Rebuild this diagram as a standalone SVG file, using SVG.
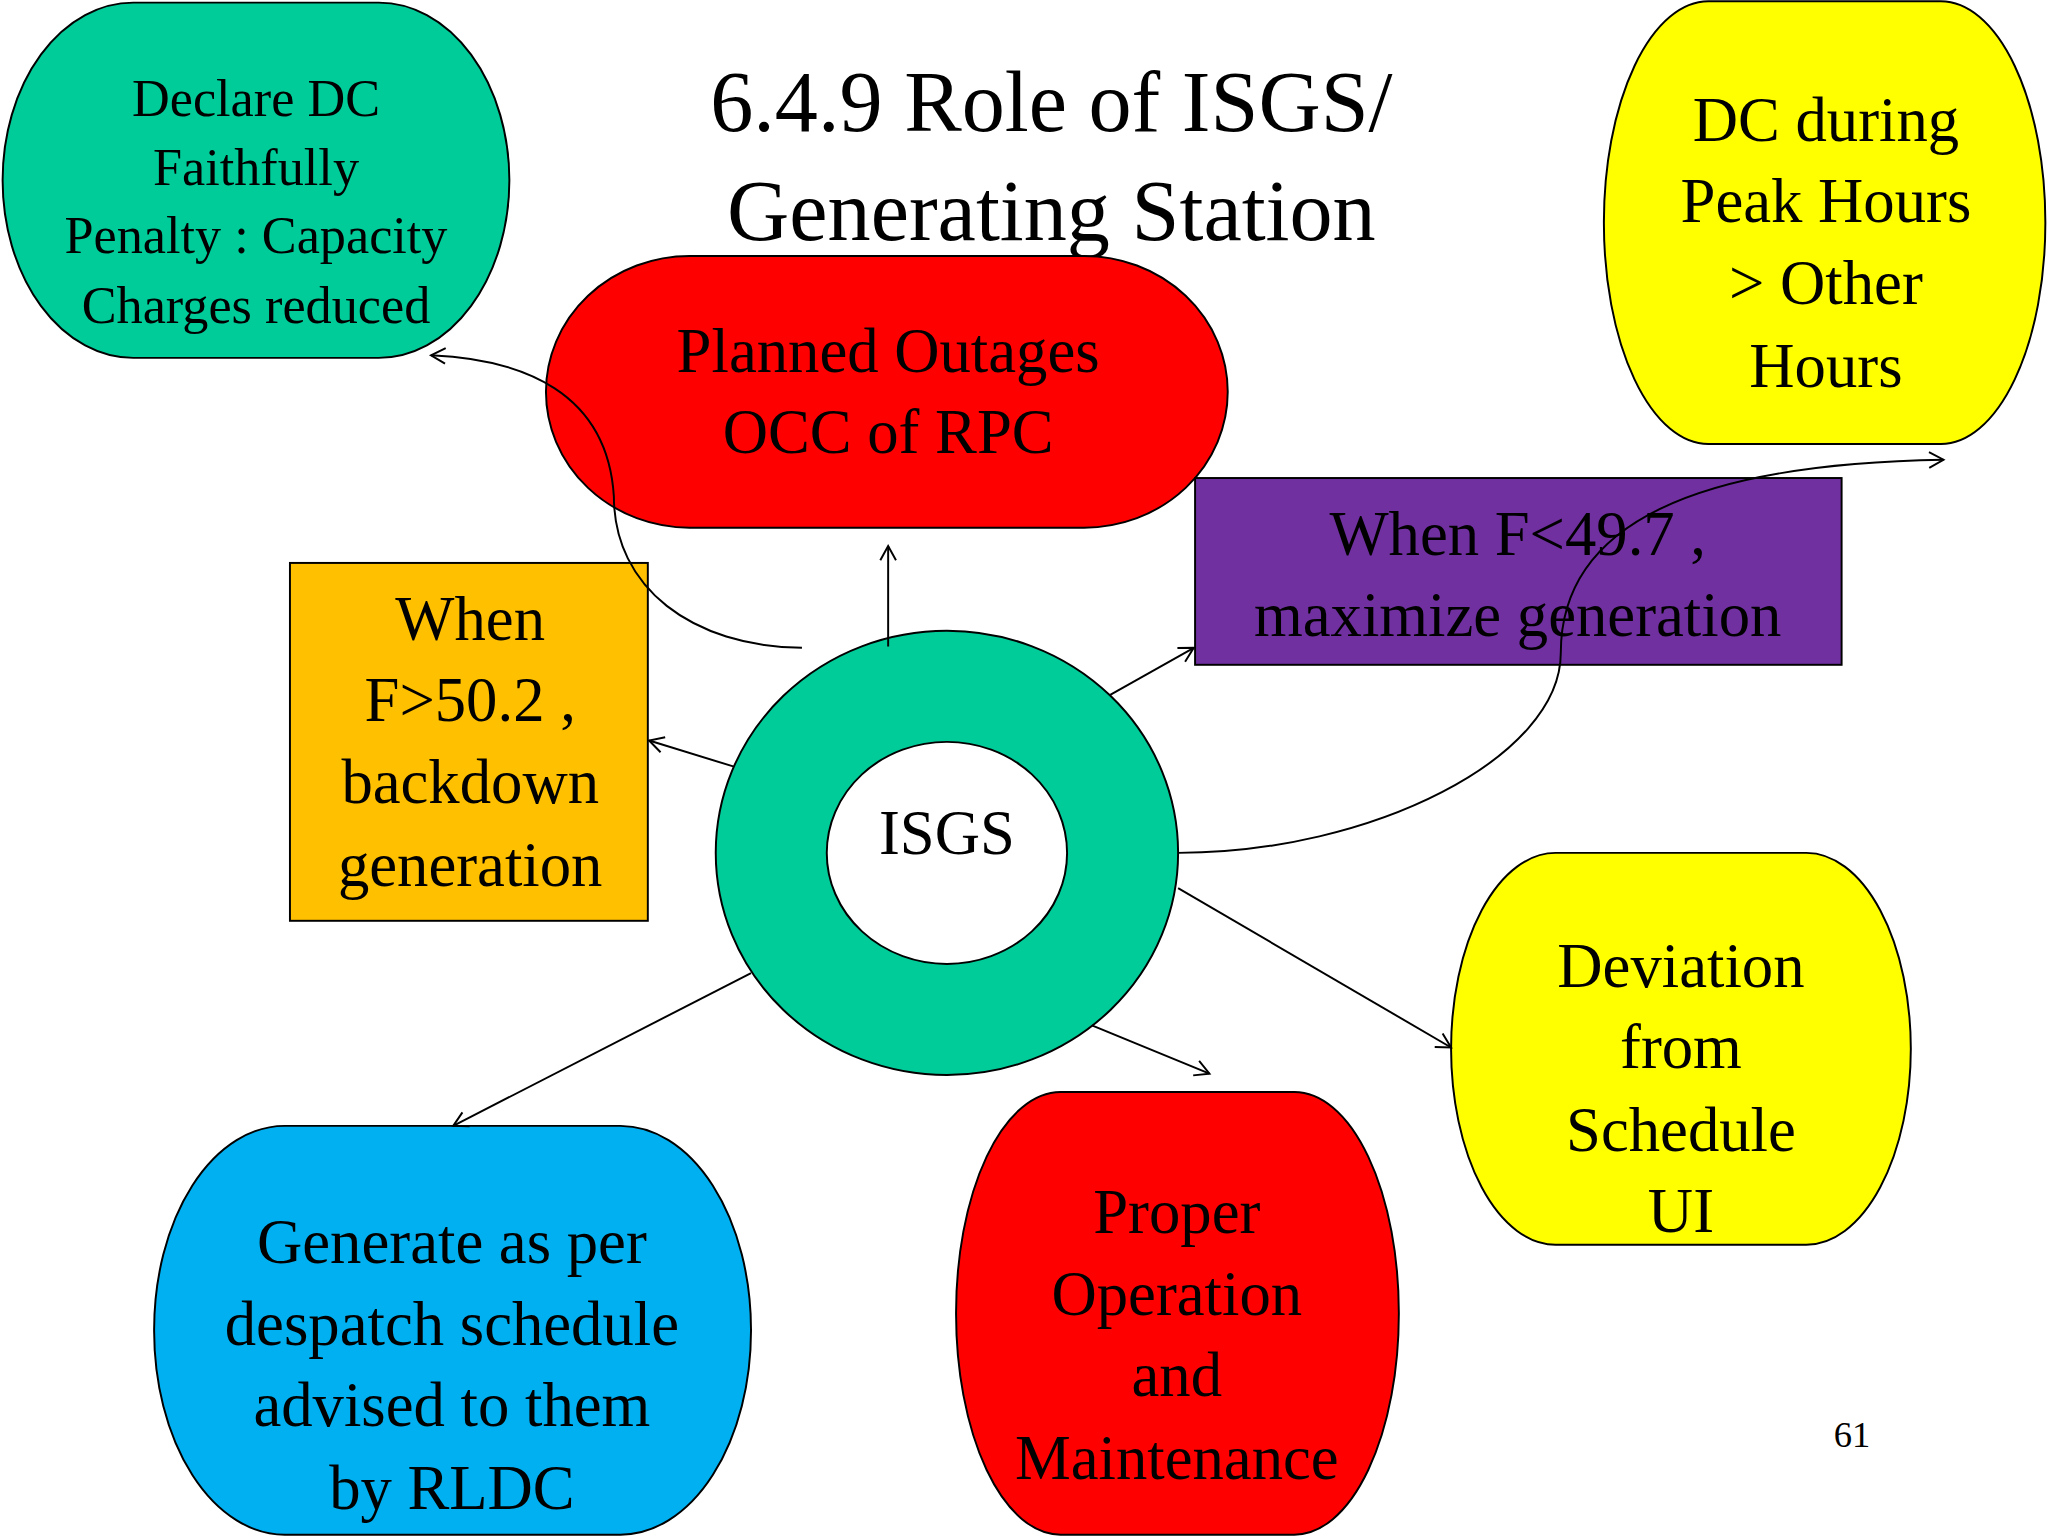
<svg xmlns="http://www.w3.org/2000/svg" width="2048" height="1536" viewBox="0 0 2048 1536">
<style>
.n{stroke:#000;stroke-width:1.5}
.t{font-family:"Liberation Serif","Times New Roman",serif;text-anchor:middle;fill:#000}
.c{fill:none;stroke:#000;stroke-width:1.5}
</style>
<defs>
<marker id="a" markerWidth="14" markerHeight="14" refX="12" refY="7" orient="auto" markerUnits="userSpaceOnUse">
<path d="M1,1 L12,7 L1,13" fill="none" stroke="#000" stroke-width="1.5"/>
</marker>
</defs>
<rect width="2048" height="1536" fill="#fff"/>
<g transform="scale(1.3061)">
<g id="title"><text class="t" x="805" y="100" font-size="66">6.4.9 Role of ISGS/</text><text class="t" x="805" y="184" font-size="66">Generating Station</text></g>
<g id="declare"><rect class="n" x="2" y="2" width="388" height="272" rx="100" ry="136" fill="#00CC99"/>
<text class="t" font-size="40"><tspan x="196" y="89">Declare DC</tspan><tspan x="196" y="142">Faithfully</tspan><tspan x="196" y="194">Penalty : Capacity</tspan><tspan x="196" y="247">Charges reduced</tspan></text></g>
<g id="planned"><rect class="n" x="418" y="196" width="522" height="208" rx="110" ry="104" fill="#FF0000"/>
<text class="t" font-size="48"><tspan x="680" y="285">Planned Outages</tspan><tspan x="680" y="347">OCC of RPC</tspan></text></g>
<g id="dcpeak"><rect class="n" x="1228" y="1" width="338" height="339" rx="80" ry="169" fill="#FFFF00"/>
<text class="t" font-size="48"><tspan x="1398" y="108">DC during</tspan><tspan x="1398" y="170">Peak Hours</tspan><tspan x="1398" y="233">&gt; Other</tspan><tspan x="1398" y="296">Hours</tspan></text></g>
<g id="max"><rect class="n" x="915" y="366" width="495" height="143" fill="#7030A0"/>
<text class="t" font-size="48"><tspan x="1162" y="425">When F&lt;49.7 ,</tspan><tspan x="1162" y="487">maximize generation</tspan></text></g>
<g id="backdown"><rect class="n" x="222" y="431" width="274" height="274" fill="#FFC000"/>
<text class="t" font-size="48"><tspan x="360" y="490">When</tspan><tspan x="360" y="552">F&gt;50.2 ,</tspan><tspan x="360" y="615">backdown</tspan><tspan x="360" y="678">generation</tspan></text></g>
<g id="isgs"><path class="n" fill="#00CC99" fill-rule="evenodd" d="M548,653 a177,170 0 1,0 354,0 a177,170 0 1,0 -354,0 Z M633,653 a92,85 0 1,0 184,0 a92,85 0 1,0 -184,0 Z"/>
<text class="t" x="725" y="654" font-size="48">ISGS</text></g>
<g id="deviation"><rect class="n" x="1111" y="653" width="352" height="300" rx="80" ry="150" fill="#FFFF00"/>
<text class="t" font-size="48"><tspan x="1287" y="756">Deviation</tspan><tspan x="1287" y="818">from</tspan><tspan x="1287" y="881">Schedule</tspan><tspan x="1287" y="943">UI</tspan></text></g>
<g id="proper"><rect class="n" x="732" y="836" width="339" height="339" rx="80" ry="169" fill="#FF0000"/>
<text class="t" font-size="48"><tspan x="901" y="944">Proper</tspan><tspan x="901" y="1007">Operation</tspan><tspan x="901" y="1069">and</tspan><tspan x="901" y="1132">Maintenance</tspan></text></g>
<g id="generate"><rect class="n" x="118" y="862" width="457" height="313" rx="100" ry="156" fill="#00B0F0"/>
<text class="t" font-size="48"><tspan x="346" y="967">Generate as per</tspan><tspan x="346" y="1030">despatch schedule</tspan><tspan x="346" y="1092">advised to them</tspan><tspan x="346" y="1155">by RLDC</tspan></text></g>
<g id="page"><text class="t" x="1418" y="1108" font-size="28">61</text></g>
<g id="connectors">
<path class="c" marker-end="url(#a)" d="M680,495 L680,418"/>
<path class="c" marker-end="url(#a)" d="M614,496 C530,495 470,450 470,380 C465,300 400,275 330,272"/>
<path class="c" marker-end="url(#a)" d="M562,587 L497,567"/>
<path class="c" marker-end="url(#a)" d="M850,532 L914,496"/>
<path class="c" marker-end="url(#a)" d="M902,653 C1050,653 1195,580 1195,500 C1195,400 1300,355 1488,352"/>
<path class="c" marker-end="url(#a)" d="M902,680 L1111,802"/>
<path class="c" marker-end="url(#a)" d="M836,785 L926,822"/>
<path class="c" marker-end="url(#a)" d="M575,745 L347,862"/>
</g>
</g>
</svg>
